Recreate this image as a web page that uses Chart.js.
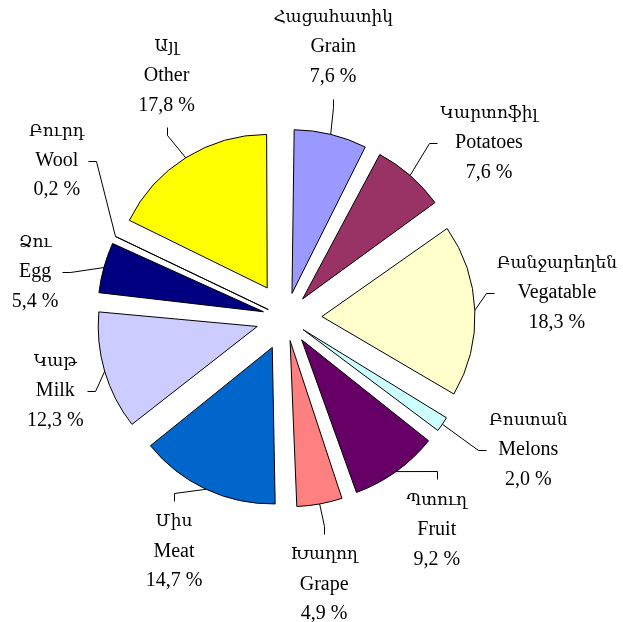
<!DOCTYPE html>
<html>
<head>
<meta charset="utf-8">
<script src="https://cdn.jsdelivr.net/npm/chart.js@4.4.1/dist/chart.umd.min.js"></script>
<style>
  html, body { margin: 0; padding: 0; background: #ffffff; }
  #wrap { width: 623px; height: 622px; position: relative; }
</style>
</head>
<body>
<div id="wrap"><canvas id="c" width="623" height="622"></canvas></div>
<script>
// ---- data ----
const categories = ['Grain', 'Potatoes', 'Vegatable', 'Melons', 'Fruit', 'Grape', 'Meat', 'Milk', 'Egg', 'Wool', 'Other'];
const armenianNames = ['Հացահատիկ', 'Կարտոֆիլ', 'Բանջարեղեն', 'Բոստան', 'Պտուղ', 'Խաղող', 'Միս', 'Կաթ', 'Ձու', 'Բուրդ', 'Այլ'];
const shares = [7.6, 7.6, 18.3, 2.0, 9.2, 4.9, 14.7, 12.3, 5.4, 0.2, 17.8];

// ---- style ----
const sliceColors = ['#9999FF', '#993366', '#FFFFCC', '#CCFFFF', '#660066', '#FF8080', '#0066CC', '#CCCCFF', '#000080', '#FF00FF', '#FFFF00'];
const EXPLODE = 39;     // px each slice is pulled out
const RADIUS = 150;
const FONT_LATIN = "20px 'Liberation Serif', 'DejaVu Serif', serif";
const FONT_ARM = "17px 'DejaVu Serif', 'Liberation Serif', serif";
const LINE_H = 29.5;
// label layout: [angle nudge (deg, clockwise), distance from pie centre, side of text relative to leader]
const labelLayout = [
  [-3.8, 275, 'above'],
  [8.2, 268, 'right'],
  [-2.9, 272, 'right'],
  [-5.6, 276, 'right'],
  [0.2, 260, 'below'],
  [2.1, 269, 'below'],
  [0.6, 259, 'below'],
  [-1.2, 242, 'left'],
  [-5.1, 255, 'left'],
  [8.9, 278, 'left'],
  [5.8, 270, 'above']
];

const fmt = v => v.toFixed(1).replace('.', ',') + ' %';

const labelPlugin = {
  id: 'pieLabels',
  afterDatasetsDraw(chart) {
    const ctx = chart.ctx;
    const meta = chart.getDatasetMeta(0);
    ctx.save();
    ctx.fillStyle = '#000';
    ctx.strokeStyle = '#000';
    ctx.lineWidth = 1;
    ctx.textAlign = 'center';
    ctx.textBaseline = 'middle';
    meta.data.forEach((arc, i) => {
      const p = arc.getProps(['x', 'y', 'startAngle', 'endAngle', 'outerRadius'], true);
      const mid = (p.startAngle + p.endAngle) / 2;
      // anchor on the exploded slice's outer arc
      const ax = p.x + Math.cos(mid) * (EXPLODE + p.outerRadius);
      const ay = p.y + Math.sin(mid) * (EXPLODE + p.outerRadius);
      const [nudge, dist, side] = labelLayout[i];
      const la = mid + nudge * Math.PI / 180;
      const cx = p.x + Math.cos(la) * dist;
      const cy = p.y + Math.sin(la) * dist;
      const lines = [[armenianNames[i], FONT_ARM], [categories[i], FONT_LATIN], [fmt(shares[i]), FONT_LATIN]];
      let w = 0;
      lines.forEach(([t, f], k) => {
        ctx.font = f;
        w = Math.max(w, ctx.measureText(t).width);
        ctx.fillText(t, cx, cy + (k - 1) * LINE_H);
      });
      let ex, ey, bx, by;
      if (side === 'right') { ex = cx - w / 2 - 3; ey = cy; bx = ex - 8; by = ey; }
      else if (side === 'left') { ex = cx + w / 2 + 3; ey = cy; bx = ex + 8; by = ey; }
      else if (side === 'above') { ex = cx; ey = cy + LINE_H + 22; bx = ex; by = ey + 8; }
      else { ex = cx; ey = cy - LINE_H - 21; bx = ex; by = ey - 8; }
      ctx.beginPath();
      ctx.moveTo(Math.round(ex) + 0.5, Math.round(ey) + 0.5);
      ctx.lineTo(Math.round(bx) + 0.5, Math.round(by) + 0.5);
      ctx.lineTo(ax, ay);
      ctx.stroke();
    });
    ctx.restore();
  }
};

const total = shares.reduce((a, b) => a + b, 0);

new Chart(document.getElementById('c'), {
  type: 'pie',
  data: {
    labels: categories,
    datasets: [{
      data: shares,
      backgroundColor: sliceColors,
      borderColor: '#000000',
      borderWidth: 1,
      borderJoinStyle: 'miter',
      offset: (c) => {
        // Chart.js translates an arc by offset/4*(1+fix); invert so every slice moves EXPLODE px
        const circ = (c.dataset.data[c.dataIndex] / total) * Math.PI * 2;
        const fix = 1 - Math.sin(Math.min(Math.PI, circ));
        return 4 * EXPLODE / (1 + fix);
      }
    }]
  },
  options: {
    responsive: false,
    animation: false,
    devicePixelRatio: 1,
    radius: RADIUS,
    layout: { padding: { left: 0, right: 51, top: 14, bottom: 0 } },
    plugins: {
      legend: { display: false },
      tooltip: { enabled: false }
    }
  },
  plugins: [labelPlugin]
});
</script>
</body>
</html>
